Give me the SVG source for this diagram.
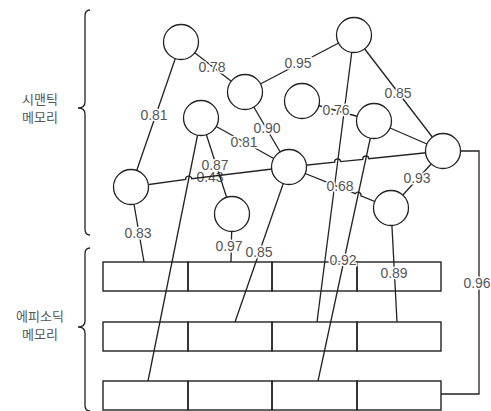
<svg xmlns="http://www.w3.org/2000/svg" width="491" height="411" viewBox="0 0 491 411">
<style>
.ln{fill:none;stroke:#222;stroke-width:1.3}
.nd{fill:#fff;stroke:#222;stroke-width:1.3}
.cell{fill:none;stroke:#222;stroke-width:1.4}
.lb{font-family:"Liberation Sans",Arial,sans-serif;font-size:14px;fill:#555;text-anchor:middle;stroke:#fff;stroke-width:3;paint-order:stroke}
.lb0{font-family:"Liberation Sans",Arial,sans-serif;font-size:14px;fill:#555;text-anchor:middle}
.kr{font-family:"Noto Sans CJK KR","Noto Sans",sans-serif;font-size:13px;fill:#555;text-anchor:middle}
</style>
<rect width="491" height="411" fill="#fff"/>
<g id="braces">
<path class="ln" d="M90,10 Q85,10 85,16 L85,102 Q85,108 78,108 Q85,108 85,114 L85,229 Q85,235 90,235"/>
<path class="ln" d="M90,248 Q85,248 85,254 L85,321 Q85,327 78,327 Q85,327 85,333 L85,405 Q85,411 90,411"/>
</g>
<g id="titles">
<text class="kr" x="40" y="104">시맨틱</text>
<text class="kr" x="40" y="122">메모리</text>
<text class="kr" x="40" y="321">에피소딕</text>
<text class="kr" x="40" y="339">메모리</text>
</g>
<text class="lb0" x="210" y="182">0.43</text>
<g id="connectors">
<line class="ln" x1="181" y1="42" x2="131" y2="187"/>
<line class="ln" x1="181" y1="42" x2="245" y2="92"/>
<line class="ln" x1="245" y1="92" x2="354" y2="35"/>
<line class="ln" x1="354" y1="35" x2="443" y2="151"/>
<line class="ln" x1="245" y1="92" x2="289" y2="167"/>
<line class="ln" x1="302" y1="101" x2="374" y2="121"/>
<line class="ln" x1="201" y1="118" x2="289" y2="167"/>
<line class="ln" x1="201" y1="118" x2="232" y2="214"/>
<path class="ln" d="M131,187 L185.7,179.4 A3,3 0 0 1 191.7,178.7 L289,167"/>
<path class="ln" d="M289,167 L334.6,162.2 A3,3 0 0 1 340.6,161.6 L362.8,159.3 A3,3 0 0 1 368.8,158.7 L443,151"/>
<line class="ln" x1="374" y1="121" x2="443" y2="151"/>
<line class="ln" x1="443" y1="151" x2="391" y2="208"/>
<path class="ln" d="M289,167 L355.4,193.7 A3,3 0 0 1 360.9,195.9 L391,208"/>
<line class="ln" x1="131" y1="187" x2="144" y2="262"/>
<line class="ln" x1="232" y1="214" x2="231" y2="262"/>
<line class="ln" x1="289" y1="167" x2="235" y2="322"/>
<line class="ln" x1="201" y1="118" x2="148" y2="381"/>
<line class="ln" x1="354" y1="35" x2="317" y2="322"/>
<line class="ln" x1="374" y1="121" x2="318" y2="381"/>
<line class="ln" x1="391" y1="208" x2="397" y2="322"/>
<path class="ln" d="M443,151 H479 V394 H441"/>
</g>
<g id="row1">
<rect class="cell" x="103" y="262" width="85" height="29"/>
<rect class="cell" x="188" y="262" width="84" height="29"/>
<rect class="cell" x="272" y="262" width="85" height="29"/>
<rect class="cell" x="357" y="262" width="84" height="29"/>
</g>
<g id="row2">
<rect class="cell" x="103" y="322" width="85" height="29"/>
<rect class="cell" x="188" y="322" width="84" height="29"/>
<rect class="cell" x="272" y="322" width="85" height="29"/>
<rect class="cell" x="357" y="322" width="84" height="29"/>
</g>
<g id="row3">
<rect class="cell" x="103" y="381" width="85" height="29"/>
<rect class="cell" x="188" y="381" width="84" height="29"/>
<rect class="cell" x="272" y="381" width="85" height="29"/>
<rect class="cell" x="357" y="381" width="84" height="29"/>
</g>
<g id="nA"><circle class="nd" cx="181" cy="42" r="17.5"/></g>
<g id="nB"><circle class="nd" cx="245" cy="92" r="17.5"/></g>
<g id="nC"><circle class="nd" cx="354" cy="35" r="17.5"/></g>
<g id="nD"><circle class="nd" cx="302" cy="101" r="17.5"/></g>
<g id="nE"><circle class="nd" cx="374" cy="121" r="17.5"/></g>
<g id="nF"><circle class="nd" cx="443" cy="151" r="17.5"/></g>
<g id="nG"><circle class="nd" cx="289" cy="167" r="17.5"/></g>
<g id="nH"><circle class="nd" cx="391" cy="208" r="17.5"/></g>
<g id="nI"><circle class="nd" cx="201" cy="118" r="17.5"/></g>
<g id="nJ"><circle class="nd" cx="131" cy="187" r="17.5"/></g>
<g id="nK"><circle class="nd" cx="232" cy="214" r="17.5"/></g>
<g id="labels">
<text class="lb" x="212" y="72">0.78</text>
<text class="lb" x="298" y="68">0.95</text>
<text class="lb" x="398" y="98">0.85</text>
<text class="lb" x="154" y="120">0.81</text>
<text class="lb" x="267" y="133">0.90</text>
<text class="lb" x="336" y="115">0.76</text>
<text class="lb" x="244" y="147">0.81</text>
<text class="lb" x="215" y="170">0.87</text>
<text class="lb" x="340" y="191">0.68</text>
<text class="lb" x="417" y="183">0.93</text>
<text class="lb" x="138" y="238">0.83</text>
<text class="lb" x="229" y="251">0.97</text>
<text class="lb" x="259" y="257">0.85</text>
<text class="lb" x="343" y="265">0.92</text>
<text class="lb" x="394" y="278">0.89</text>
<text class="lb" x="477" y="288">0.96</text>
</g>
</svg>
